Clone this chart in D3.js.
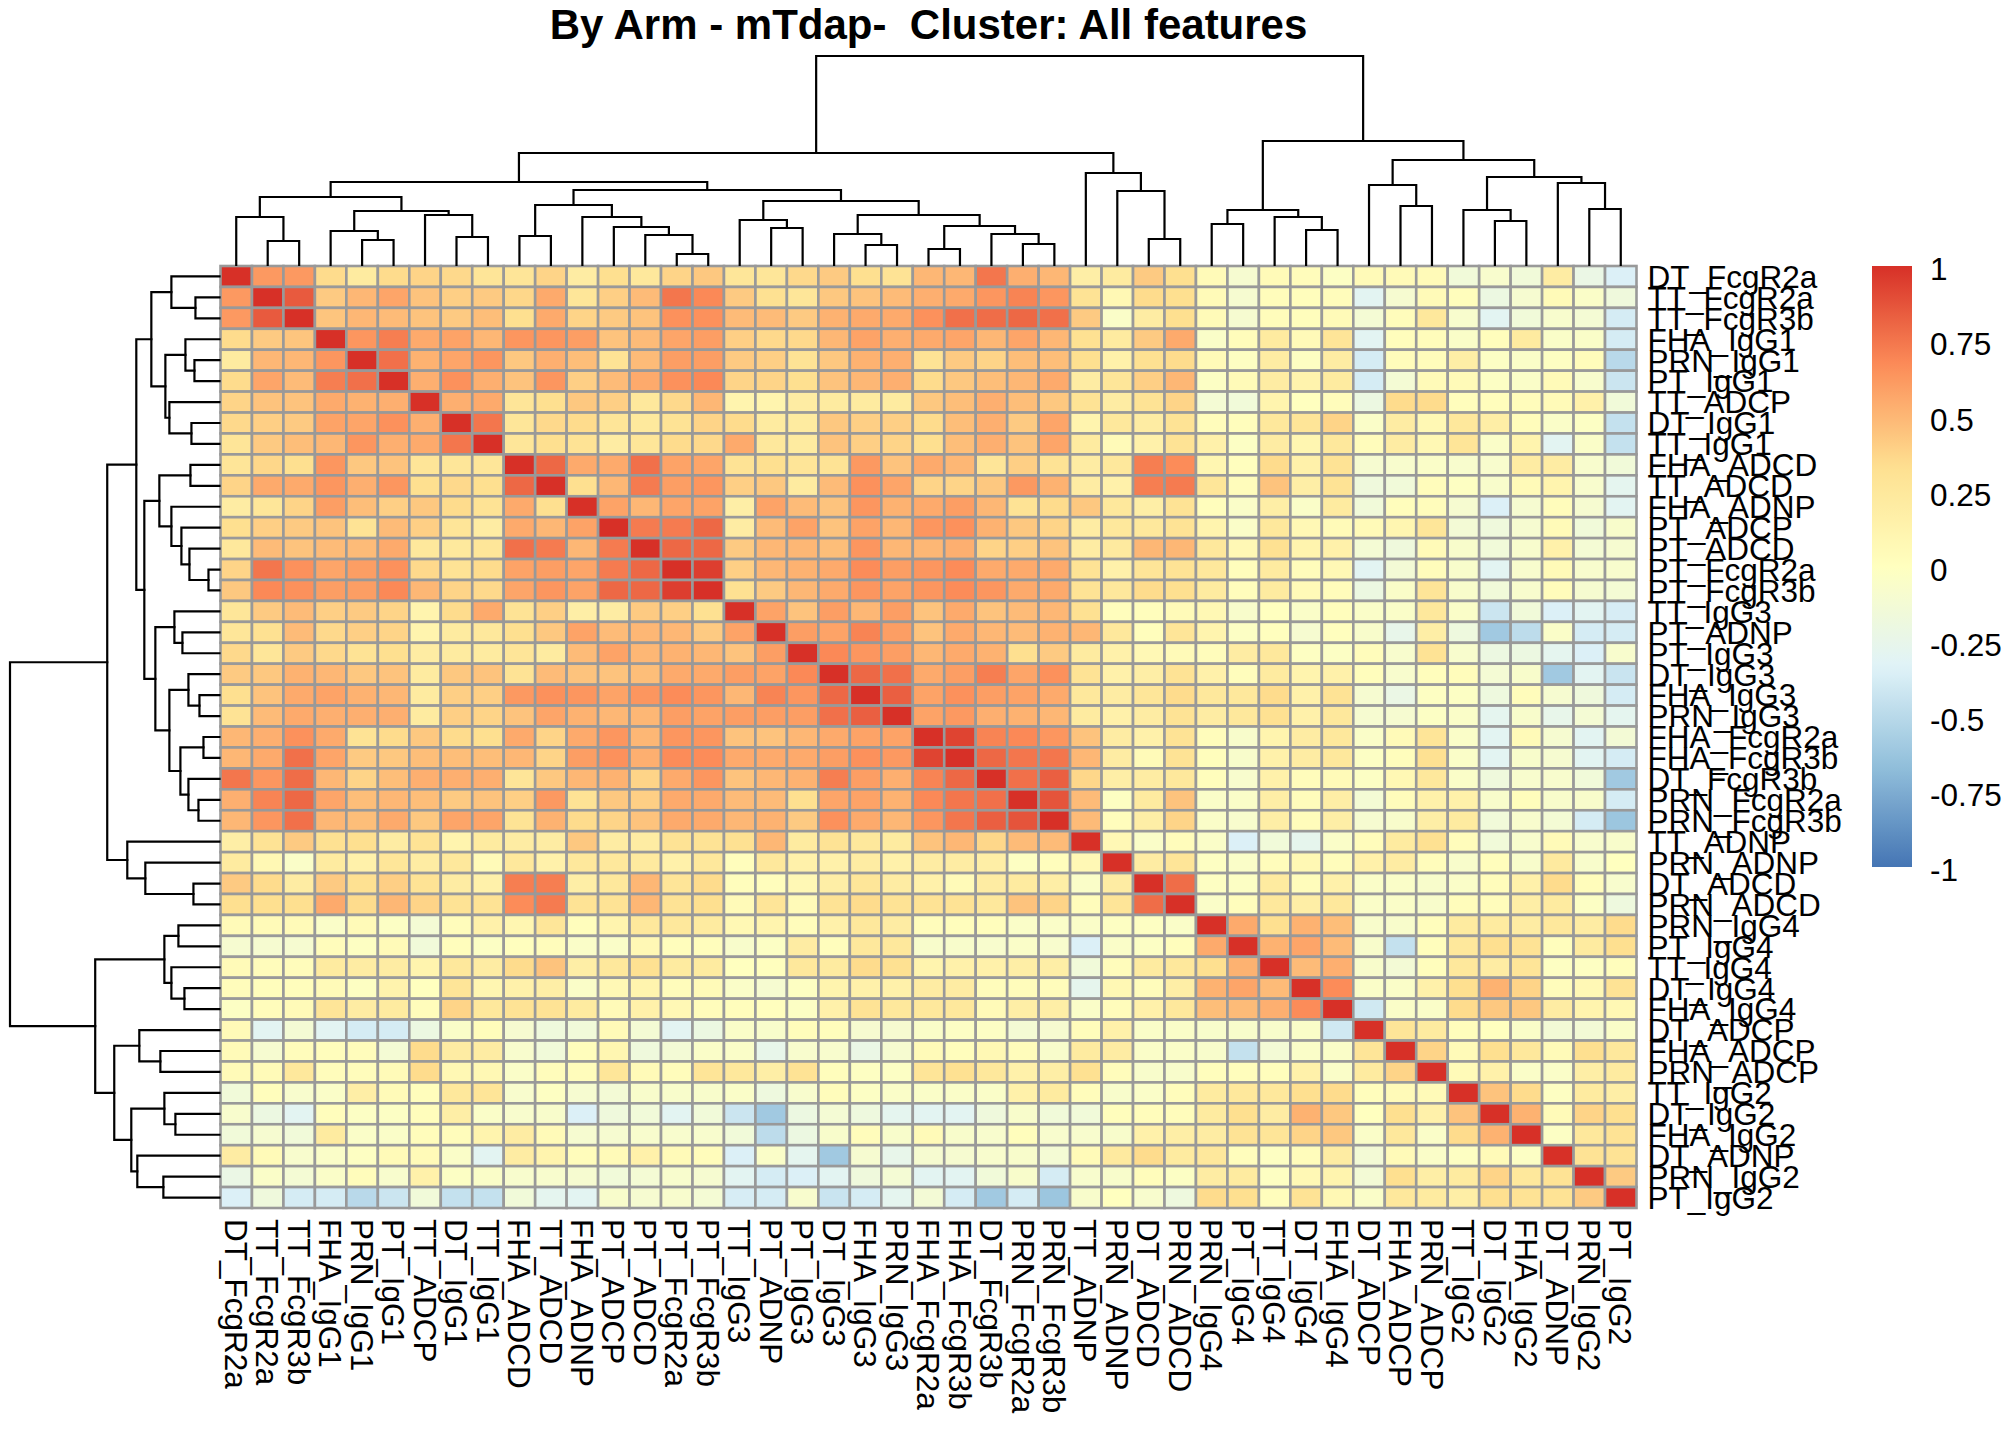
<!DOCTYPE html>
<html>
<head>
<meta charset="utf-8">
<script src="https://cdn.jsdelivr.net/npm/d3@7"></script>
<style>
  html, body { margin: 0; padding: 0; background: #fff; }
  svg { display: block; }
  text { font-family: "Liberation Sans", Arial, Helvetica, sans-serif; }
</style>
</head>
<body>
<svg id="chart" width="2016" height="1440"></svg>
<script>
const titleText = "By Arm - mTdap-  Cluster: All features";

const features = [
  "DT_FcgR2a","TT_FcgR2a","TT_FcgR3b","FHA_IgG1","PRN_IgG1","PT_IgG1","TT_ADCP","DT_IgG1","TT_IgG1",
  "FHA_ADCD","TT_ADCD","FHA_ADNP","PT_ADCP","PT_ADCD","PT_FcgR2a","PT_FcgR3b","TT_IgG3","PT_ADNP",
  "PT_IgG3","DT_IgG3","FHA_IgG3","PRN_IgG3","FHA_FcgR2a","FHA_FcgR3b","DT_FcgR3b","PRN_FcgR2a",
  "PRN_FcgR3b","TT_ADNP","PRN_ADNP","DT_ADCD","PRN_ADCD","PRN_IgG4","PT_IgG4","TT_IgG4","DT_IgG4",
  "FHA_IgG4","DT_ADCP","FHA_ADCP","PRN_ADCP","TT_IgG2","DT_IgG2","FHA_IgG2","DT_ADNP","PRN_IgG2","PT_IgG2"
];

// upper triangle of the correlation matrix: row i holds columns i..44
const corrUpper = [
  [1,.62,.62,.35,.22,.35,.38,.36,.28,.28,.38,.2,.33,.25,.38, .43,.27,.27,.36,.42,.33,.3,.5,.5,.75,.53,.5,.18,.22,.42, .33,.05,-.1,.05,.03,-.03,.05,.05,.05,-.15,-.08,-.15,.2,-.22,-.35],
  [1,.85,.42,.5,.57,.45,.4,.42,.37,.55,.27,.4,.48,.75, .68,.42,.32,.27,.43,.45,.48,.53,.55,.63,.7,.63,.3,.08,.35, .33,.05,-.1,.03,.02,.03,-.3,-.1,.05,.02,-.2,-.1,.05,-.05,-.17],
  [1,.44,.5,.48,.45,.42,.47,.33,.55,.38,.42,.45,.65, .65,.48,.48,.42,.52,.55,.55,.65,.77,.78,.8,.77,.42,-.05,.2, .33,.05,-.1,.03,.02,.05,-.12,.03,.25,-.08,-.3,-.15,-.08,-.12,-.38],
  [1,.63,.72,.55,.58,.5,.63,.63,.6,.45,.48,.57, .6,.4,.36,.36,.5,.58,.53,.55,.57,.5,.57,.5,.32,.22,.42, .55,-.05,.03,.22,.05,.28,-.3,.02,.03,-.05,.02,.22,-.05,-.05,-.38],
  [1,.77,.52,.57,.63,.43,.53,.47,.3,.48,.6, .6,.42,.4,.3,.43,.52,.53,.3,.42,.38,.47,.47,.33,.15,.32, .35,.05,-.02,.2,-.02,.2,-.38,.03,.03,.18,-.03,-.05,-.02,.03,-.5],
  [1,.53,.65,.53,.45,.63,.4,.48,.55,.65, .68,.38,.38,.33,.45,.5,.53,.35,.43,.47,.5,.55,.2,.27,.4, .5,-.03,.05,.2,.13,.22,-.38,-.12,.05,.05,-.03,-.05,.05,-.08,-.42],
  [1,.53,.55,.28,.33,.43,.4,.25,.36, .5,.12,.12,.2,.22,.22,.22,.43,.47,.53,.47,.43,.3,.2,.3, .38,-.12,-.15,.12,0,.03,-.2,.35,.35,.02,.02,.03,.05,.15,-.15],
  [1,.75,.27,.36,.35,.28,.24,.3, .38,.35,.22,.22,.43,.4,.4,.35,.47,.53,.42,.57,.12,.25,.2, .3,.03,.02,.25,.28,.38,-.05,.2,.08,.25,.18,.03,-.05,-.03,-.45],
  [1,.27,.33,.3,.2,.27,.35, .36,.55,.25,.22,.45,.4,.38,.33,.47,.53,.45,.57,.22,.05,.15, .3,.15,-.03,.2,.1,.25,.03,.2,.08,.28,-.05,.12,-.3,-.05,-.45],
  [1,.8,.55,.55,.77,.58, .57,.3,.33,.28,.3,.62,.45,.55,.5,.28,.4,.3,.2,.25,.72, .67,.1,.01,.35,.15,.3,-.1,-.08,-.05,-.08,-.08,.2,.2,-.08,-.15],
  [1,.33,.5,.73,.6, .63,.4,.43,.22,.48,.65,.57,.38,.38,.43,.62,.52,.2,.15,.72, .73,.27,.03,.45,.18,.3,-.17,-.15,.03,-.02,-.07,.05,.12,-.08,-.28],
  [1,.58,.5,.57, .58,.18,.58,.48,.45,.63,.52,.55,.6,.5,.3,.35,.43,.25,.18, .3,.02,-.05,.18,-.05,.22,-.15,.02,.03,-.1,-.35,-.1,.03,-.1,-.3],
  [1,.73,.73, .8,.2,.48,.58,.45,.58,.5,.63,.65,.52,.43,.38,.2,.25,.25, .3,.12,-.05,.25,.07,.05,.05,.1,.27,-.13,-.17,-.1,.05,-.15,-.07],
  [1,.8, .8,.42,.5,.5,.47,.63,.5,.5,.53,.38,.4,.45,.2,.23,.5, .5,.25,.07,.32,.12,.15,-.12,-.17,.05,-.07,-.15,-.08,.15,-.12,-.1],
  [1, .95,.4,.5,.52,.55,.67,.6,.63,.67,.55,.55,.55,.3,.15,.28, .3,.25,.02,.22,.03,.07,-.3,-.13,.03,-.07,-.3,-.08,.05,-.08,-.08],
  [1,.32,.42,.5,.55,.63,.58,.63,.67,.63,.55,.55,.3,.25,.35, .33,.22,.02,.22,.05,.03,-.2,-.05,.28,-.07,-.15,-.08,.03,-.1,-.12],
  [1,.58,.45,.6,.5,.6,.45,.55,.45,.48,.5,.32,.02,.02, .05,.08,-.07,0,-.05,.02,-.05,-.05,.25,-.05,-.42,-.15,-.35,-.3,-.37],
  [1,.6,.58,.7,.6,.45,.55,.5,.48,.52,.5,.25,.02, .28,.12,-.03,.01,-.1,.01,-.07,-.25,.18,-.18,-.6,-.48,-.05,-.38,-.38],
  [1,.68,.63,.6,.5,.55,.52,.33,.42,.22,.15,.07, .05,.03,.2,.25,-.02,-.03,.03,-.08,.3,-.08,-.2,-.2,-.28,-.35,-.08],
  [1,.8,.77,.55,.6,.72,.57,.65,.3,.15,.18, .3,.15,.02,.22,.12,.15,.02,-.08,.02,.03,-.12,-.07,-.6,-.3,-.43],
  [1,.83,.58,.65,.6,.58,.55,.25,.2,.27, .35,.25,.25,.35,.15,.3,-.1,-.22,-.02,-.03,-.18,.03,-.1,-.17,-.38],
  [1,.58,.62,.53,.52,.5,.22,.15,.2, .3,.2,.25,.32,.15,.25,-.1,-.1,-.03,-.05,-.28,-.07,-.25,-.12,-.28],
  [1,.93,.7,.68,.63,.45,.2,.15, .3,.03,-.07,.12,.2,.25,-.05,.05,.28,-.05,-.3,.05,-.1,-.3,-.13],
  [1,.8,.75,.75,.5,.2,.05, .3,.02,-.07,.15,.2,.25,-.03,.02,.32,-.05,-.3,-.07,-.1,-.3,-.38],
  [1,.77,.83,.37,.18,.2, .25,.02,-.08,.15,.03,.05,-.03,.08,.25,-.05,-.17,-.08,-.08,-.15,-.6],
  [1,.87,.48,-.02,.22, .45,-.05,-.05,.18,.03,.18,-.12,.03,.15,.15,-.07,.02,-.07,-.07,-.38],
  [1,.48,.02,.18, .38,-.05,-.08,.18,.03,.18,-.1,-.07,.18,.22,-.15,-.08,-.12,-.38,-.62],
  [1,.07,-.05, .03,-.05,-.35,-.15,-.27,-.05,.03,.22,.32,.03,-.15,-.08,.05,-.08,-.07],
  [1,.2, .28,-.02,-.05,.03,.08,.03,.15,.2,.03,-.07,.02,-.07,.23,-.07,0],
  [1, .78,-.02,-.03,.22,.03,.15,-.05,-.05,-.07,-.05,.03,.15,.35,.03,-.08],
  [1,-.05,.02,.25,.18,.25,-.05,-.05,-.07,.03,.03,.18,.22,-.03,-.18],
  [1,.55,.33,.52,.47,-.07,-.07,.02,.22,.22,.2,.25,.2,.35],
  [1,.52,.57,.48,-.07,-.45,.02,.25,.33,.3,.02,.22,.33],
  [1,.48,.53,-.07,-.13,.02,.25,.2,.28,-.02,-.02,.02],
  [1,.67,-.05,-.05,.15,.33,.52,.38,.03,.07,.3],
  [1,-.4,-.05,-.05,.35,.43,.43,.2,.12,.08],
  [1,.28,.22,.02,0,-.05,-.13,-.13,-.05],
  [1,.38,.05,.33,.25,.05,.33,.25],
  [1,.05,.15,-.05,-.05,.18,.22],
  [1,.45,.35,-.02,.22,.18],
  [1,.52,.05,.38,.33],
  [1,-.03,.25,.3],
  [1,.3,.3],
  [1,.42],
  [1]
];

// hierarchical clustering tree: internal node = [height, left, right], leaf = feature index
const tree = [2.09,
  [1.12,
    [0.83,
      [0.68,
        [0.48, 0, [0.24, 1, 2]],
        [0.54, [0.34, 3, [0.25, 4, 5]], [0.50, 6, [0.28, 7, 8]]]
      ],
      [0.75,
        [0.60, [0.29, 9, 10], [0.48, 11, [0.38, 12, [0.30, 13, [0.11, 14, 15]]]]],
        [0.64,
          [0.45, 16, [0.37, 17, 18]],
          [0.50, [0.31, 19, [0.20, 20, 21]], [0.39, [0.16, 22, 23], [0.31, 24, [0.21, 25, 26]]]]
        ]
      ]
    ],
    [0.92, 27, [0.74, 28, [0.26, 29, 30]]]
  ],
  [1.24,
    [0.55, [0.41, 31, 32], [0.48, 33, [0.35, 34, 35]]],
    [1.05,
      [0.80, 36, [0.59, 37, 38]],
      [0.88, [0.55, 39, [0.44, 40, 41]], [0.82, 42, [0.56, 43, 44]]]
    ]
  ]
];

const legendTicks = [1, 0.75, 0.5, 0.25, 0, -0.25, -0.5, -0.75, -1];
const paletteStops = ["#4575B4","#91BFDB","#E0F3F8","#FFFFBF","#FEE090","#FC8D59","#D73027"];

// ---------- build ----------
const n = features.length;
const value = (i, j) => i <= j ? corrUpper[i][j - i] : corrUpper[j][i - j];
const cells = [];
for (let i = 0; i < n; i++) for (let j = 0; j < n; j++) cells.push({ r: i, c: j, v: value(i, j) });

const svg = d3.select("#chart");
const L = { x0: 220.5, x1: 1636.5, y0: 266, y1: 1208 };

const x = d3.scaleBand().domain(d3.range(n)).range([L.x0, L.x1]);
const y = d3.scaleBand().domain(d3.range(n)).range([L.y0, L.y1]);
const color = d3.scaleLinear().domain(d3.range(7).map(k => -1 + k / 3)).range(paletteStops).clamp(true);

// title
svg.append("text")
  .attr("x", (L.x0 + L.x1) / 2).attr("y", 39)
  .attr("text-anchor", "middle")
  .style("font-size", "42px").style("font-weight", "bold").style("white-space", "pre")
  .text(titleText);

// heatmap
svg.append("g").selectAll("rect").data(cells).join("rect")
  .attr("x", d => x(d.c)).attr("y", d => y(d.r))
  .attr("width", x.bandwidth()).attr("height", y.bandwidth())
  .attr("fill", d => color(d.v))
  .attr("stroke", "#999999").attr("stroke-width", 2.6);

// dendrograms
const hTop = d3.scaleLinear().domain([0, tree[0]]).range([L.y0 - 1, 56]);
const hLeft = d3.scaleLinear().domain([0, tree[0]]).range([L.x0 - 1, 10]);
const colPaths = [], rowPaths = [];
function walk(node) {
  if (typeof node === "number") return { c: x(node) + x.bandwidth() / 2, r: y(node) + y.bandwidth() / 2, h: 0 };
  const [h, a, b] = node;
  const A = walk(a), B = walk(b);
  colPaths.push(`M${A.c},${hTop(A.h)}V${hTop(h)}H${B.c}V${hTop(B.h)}`);
  rowPaths.push(`M${hLeft(A.h)},${A.r}H${hLeft(h)}V${B.r}H${hLeft(B.h)}`);
  return { c: (A.c + B.c) / 2, r: (A.r + B.r) / 2, h };
}
walk(tree);
const dg = svg.append("g").attr("fill", "none").attr("stroke", "#000").attr("stroke-width", 2.2)
  .attr("stroke-linecap", "square");
dg.selectAll("path.col").data(colPaths).join("path").attr("class", "col").attr("d", d => d);
dg.selectAll("path.row").data(rowPaths).join("path").attr("class", "row").attr("d", d => d);

// row labels
svg.append("g").selectAll("text").data(features).join("text")
  .attr("x", L.x1 + 11)
  .attr("y", (d, i) => y(i) + y.bandwidth() / 2)
  .attr("dy", "0.36em")
  .style("font-size", "31.5px")
  .text(d => d);

// column labels
svg.append("g").selectAll("text").data(features).join("text")
  .attr("transform", (d, i) => `translate(${x(i) + x.bandwidth() / 2},${L.y1 + 11}) rotate(90)`)
  .attr("dy", "0.36em")
  .style("font-size", "31.5px")
  .text(d => d);

// legend
const lg = { x: 1872, w: 40, y0: 266, y1: 867 };
const ly = d3.scaleLinear().domain([1, -1]).range([lg.y0, lg.y1]);
const grad = svg.append("defs").append("linearGradient").attr("id", "lgrad")
  .attr("x1", 0).attr("y1", 0).attr("x2", 0).attr("y2", 1);
d3.range(0, 1.0001, 0.02).forEach(t => {
  grad.append("stop").attr("offset", t).attr("stop-color", color(1 - 2 * t));
});
svg.append("rect").attr("x", lg.x).attr("y", lg.y0).attr("width", lg.w).attr("height", lg.y1 - lg.y0)
  .attr("fill", "url(#lgrad)");
svg.append("g").selectAll("text").data(legendTicks).join("text")
  .attr("x", lg.x + lg.w + 18)
  .attr("y", d => ly(d) + 3)
  .attr("dy", "0.36em")
  .style("font-size", "31.5px")
  .text(d => String(d));
</script>
</body>
</html>
